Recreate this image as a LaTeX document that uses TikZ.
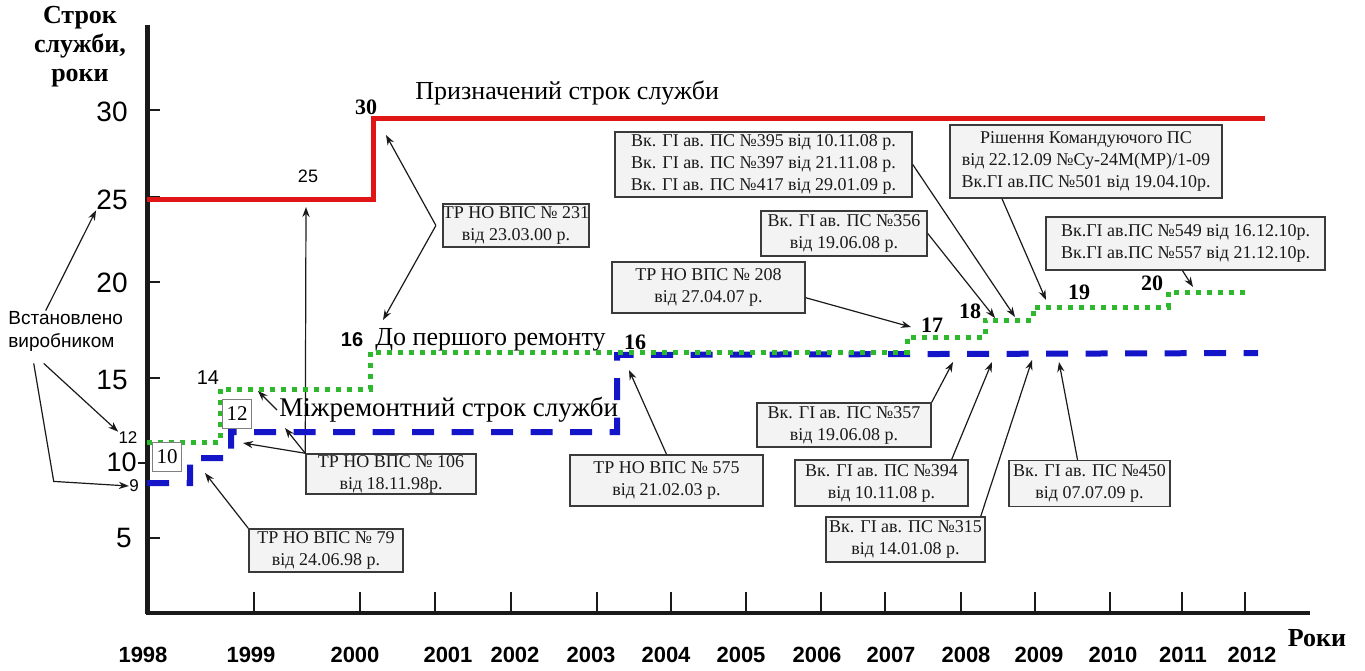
\documentclass[tikz,border=0pt]{standalone}
\usepackage{fontspec}
\setmainfont{Liberation Serif}
\setsansfont{Liberation Sans}
\usetikzlibrary{arrows.meta,positioning,calc}
\definecolor{ink}{HTML}{1A1A1A}
\definecolor{frame}{HTML}{3A3A3A}
\definecolor{boxbg}{HTML}{F3F3F3}
\definecolor{design}{HTML}{E01515}
\definecolor{overhaul}{HTML}{1414C8}
\definecolor{firstrep}{HTML}{2EB82E}
\tikzset{
  ann/.style={draw=frame,line width=0.75pt,fill=boxbg,inner sep=0pt,align=center,
    text=ink,font=\fontsize{9}{11}\selectfont},
  numbox/.style={draw=gray,line width=0.5pt,fill=white,inner sep=0pt,
    minimum width=14.5pt,minimum height=14.5pt,font=\fontsize{10.5}{12}\selectfont},
  pointer/.style={-{Stealth[length=5pt,width=3.6pt]},ink,line width=0.6pt},
  tickmk/.style={ink,line width=0.75pt},
  yrlbl/.style={inner sep=0pt,font=\sffamily\bfseries\fontsize{11}{13}\selectfont},
  ynum/.style={anchor=east,inner sep=0pt,font=\sffamily\fontsize{14}{16}\selectfont},
  smallnum/.style={inner sep=0pt,font=\sffamily\fontsize{9}{11}\selectfont},
  steplbl/.style={inner sep=0pt,font=\bfseries\fontsize{11}{13}\selectfont},
  curvelbl/.style={anchor=west,inner sep=1pt,font=\fontsize{13}{15}\selectfont},
}
\begin{document}
\begin{tikzpicture}[x=0.5pt,y=-0.5pt]
  \useasboundingbox (0,0) rectangle (1365,670);

  % axes
  \draw[ink,line width=2.5pt] (147,25) -- (147,614);
  \draw[ink,line width=2pt] (146,613) -- (1310,613);
  \foreach \yp in {110,197,282,378,538}
    \draw[tickmk] (147,\yp) -- (160,\yp);
  \draw[tickmk] (138,463) -- (147,463);
  \foreach \xp in {254,360,435,511,597,671,746,821,885,961,1035,1110,1182,1245}
    \draw[tickmk] (\xp,613) -- (\xp,592);

  \node[align=center,font=\bfseries\fontsize{13}{14.5}\selectfont] (ytitle) at (80,47)
       {Строк\\служби,\\роки};
  \node[font=\bfseries\fontsize{13}{15}\selectfont] (xtitle) at (1317,638) {Роки};
  \foreach \yr/\xp in {1998/143,1999/251,2000/355,2001/448,2002/515,2003/591,
      2004/666,2005/741,2006/817,2007/891,2008/966,2009/1039,2010/1113,2011/1183,2012/1252}
    \node[yrlbl] (yr\yr) at (\xp,655) {\yr};

  \node[ynum] (n30) at (128,112) {30};
  \node[ynum] (n25) at (128,200) {25};
  \node[ynum] (n20) at (128,283) {20};
  \node[ynum] (n15) at (128,380) {15};
  \node[ynum,font=\sffamily\fontsize{13.5}{15}\selectfont] (n10) at (137,462) {10};
  \node[ynum] (n5) at (132,538) {5};
  \node[smallnum,font=\sffamily\fontsize{8.5}{10}\selectfont] (n12s) at (128,438) {12};
  \node[smallnum,font=\sffamily\fontsize{8.5}{10}\selectfont] (n9) at (134,486) {9};

  \node[anchor=west,align=left,inner sep=0pt,font=\sffamily\fontsize{9.5}{11.5}\selectfont]
       (maker) at (8,331) {Встановлено\\виробником};

  % targets of the pointers
  \coordinate (t79) at (205,473);
  \coordinate (t106a) at (243,443);
  \coordinate (t106b) at (285,428);
  \coordinate (t106c) at (306,207);
  \coordinate (tmizh) at (258,391);
  \coordinate (t231a) at (386,135);
  \coordinate (t231b) at (383,320);
  \coordinate (t575) at (629,370);
  \coordinate (t208) at (911,327);
  \coordinate (t395) at (1015,317);
  \coordinate (t356) at (995,318);
  \coordinate (t501) at (1046,300);
  \coordinate (t549) at (1193,287);
  \coordinate (t357) at (953,362);
  \coordinate (t394) at (992,362);
  \coordinate (t315) at (1032,360);
  \coordinate (t450) at (1059,362);

  % annotation boxes
  \node[ann,minimum width=77pt,minimum height=21.5pt] (b79) at (326,550.5)
       {ТР НО ВПС № 79\\від 24.06.98 р.};
  \node[ann,minimum width=85pt,minimum height=20pt] (b106) at (391,474)
       {ТР НО ВПС № 106\\від 18.11.98р.};
  \node[ann,minimum width=71pt,minimum height=21.5pt,outer sep=3.5pt] (b231) at (516,225.5)
       {ТР НО ВПС № 231\\від 23.03.00 р.};
  \node[ann,minimum width=96.5pt,minimum height=25.5pt] (b575) at (666.5,480.5)
       {ТР НО ВПС № 575\\від 21.02.03 р.};
  \node[ann,minimum width=96.5pt,minimum height=25.5pt] (b208) at (708.5,287.5)
       {ТР НО ВПС № 208\\від 27.04.07 р.};
  \node[ann,minimum width=148.5pt,minimum height=32.5pt] (b395) at (763.5,164.5)
       {Вк. ГІ ав. ПС №395 від 10.11.08 р.\\Вк. ГІ ав. ПС №397 від 21.11.08 р.\\
        Вк. ГІ ав. ПС №417 від 29.01.09 р.};
  \node[ann,minimum width=83pt,minimum height=22.5pt] (b356) at (844,233.5)
       {Вк. ГІ ав. ПС №356\\від 19.06.08 р.};
  \node[ann,minimum width=136pt,minimum height=36.5pt] (brish) at (1086,161.5)
       {Рішення Командуючого ПС\\від 22.12.09 №Су-24М(МР)/1-09\\
        Вк.ГІ ав.ПС №501 від 19.04.10р.};
  \node[ann,minimum width=139.5pt,minimum height=26.5pt] (b549) at (1185.5,243.5)
       {Вк.ГІ ав.ПС №549 від 16.12.10р.\\Вк.ГІ ав.ПС №557 від 21.12.10р.};
  \node[ann,minimum width=87pt,minimum height=22pt] (b357) at (844,425)
       {Вк. ГІ ав. ПС №357\\від 19.06.08 р.};
  \node[ann,minimum width=86.5pt,minimum height=23pt] (b394) at (881.5,483)
       {Вк. ГІ ав. ПС №394\\від 10.11.08 р.};
  \node[ann,minimum width=79.5pt,minimum height=22.5pt] (b315) at (905.5,539.5)
       {Вк. ГІ ав. ПС №315\\від 14.01.08 р.};
  \node[ann,minimum width=80.5pt,minimum height=23pt] (b450) at (1089.5,483.5)
       {Вк. ГІ ав. ПС №450\\від 07.07.09 р.};

  \node[curvelbl] (design) at (413,93) {Призначений строк служби};
  \node[curvelbl,font=\fontsize{13.5}{15}\selectfont] (mizh) at (277,410)
       {Міжремонтний строк служби};
  \node[smallnum,font=\sffamily\bfseries\fontsize{10}{12}\selectfont] (s16a) at (352,340) {16};
  \node[curvelbl] (first) at (373,340) {До першого ремонту};

  % pointers
  \draw[pointer] ([xshift=-10pt]maker.north) -- (n25.south west);
  \draw[pointer] ([xshift=-11pt,yshift=-6pt]maker.south) -- (n12s.north west);
  \draw[pointer] ([xshift=-16pt,yshift=-6pt]maker.south) -- ++(20,118) -- (n9.west);
  \draw[pointer] (b79.north west) -- (t79);
  \draw[pointer] (b106.north west) -- (t106a);
  \draw[pointer] (b106.north west) -- (t106b);
  \draw[pointer] (b106.north west) -- (t106c);
  \draw[pointer] (mizh.west) -- (tmizh);
  \draw[pointer] (b231.west) -- (t231a);
  \draw[pointer] (b231.west) -- (t231b);
  \draw[pointer] (b575.north) -- (t575);
  \draw[pointer] (b208.-6) -- (t208);
  \draw[pointer] (b395.east) -- (t395);
  \draw[pointer] (b356.east) -- (t356);
  \draw[pointer] ([xshift=-42pt]brish.south) -- (t501);
  \draw[pointer] ([xshift=-1.5pt]b549.south) -- (t549);
  \draw[pointer] (b357.north east) -- (t357);
  \draw[pointer] ([xshift=-8.5pt]b394.north east) -- (t394);
  \draw[pointer] ([xshift=-2.5pt]b315.north east) -- (t315);
  \draw[pointer] ([xshift=-6pt]b450.north) -- (t450);

  % service life curves
  \draw[design,line width=2.5pt] (147,199) -- (373,199) -- (373,118) -- (1265,118);
  \draw[overhaul,line width=3pt,dash pattern=on 11pt off 8.75pt]
       (147,483) -- (190,483) -- (190,458) -- (231,458) -- (231,432)
       -- (617,432) -- (617,355) -- (1258,353);
  \draw[firstrep,line width=2.5pt,dash pattern=on 2.5pt off 3pt]
       (147,442) -- (220,442) -- (220,389) -- (370,389) -- (370,352)
       -- (907,352) -- (907,337) -- (985,337) -- (985,320) -- (1033,320)
       -- (1033,307) -- (1168,307) -- (1168,292) -- (1250,292);

  \node[numbox] (box10) at (167,457) {10};
  \node[numbox] (box12) at (237,414) {12};
  \node[smallnum] (s25) at (308,176) {25};
  \node[smallnum,font=\sffamily\fontsize{10}{12}\selectfont] (s14) at (208,378) {14};
  \node[steplbl] (s30) at (366,107) {30};
  \node[steplbl] (s16b) at (635,342) {16};
  \node[steplbl] (s17) at (932,325) {17};
  \node[steplbl] (s18) at (970,311) {18};
  \node[steplbl] (s19) at (1079,292) {19};
  \node[steplbl] (s20) at (1152,283) {20};
\end{tikzpicture}
\end{document}
